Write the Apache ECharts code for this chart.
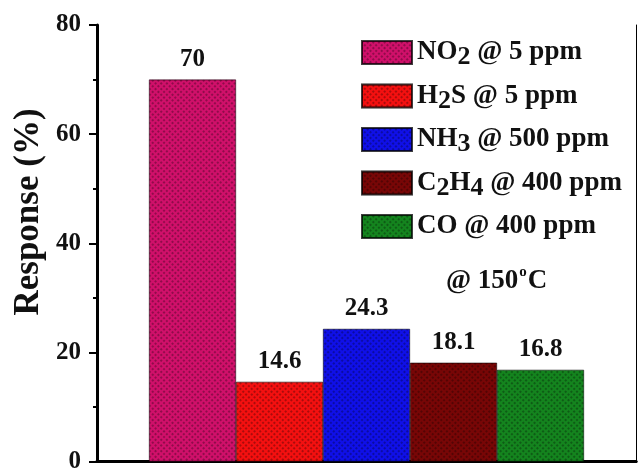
<!DOCTYPE html>
<html><head><meta charset="utf-8">
<script src="https://cdn.jsdelivr.net/npm/echarts@6/dist/echarts.min.js"></script>
<style>html,body{margin:0;padding:0;background:#fff}#c{width:638px;height:474px}</style>
</head><body><div id="c"></div>
<script>
const seriesNames = ['NO2 @ 5 ppm', 'H2S @ 5 ppm', 'NH3 @ 500 ppm', 'C2H4 @ 400 ppm', 'CO @ 400 ppm'];
const legendRich = ['NO{s|2} @ 5 ppm', 'H{s|2}S @ 5 ppm', 'NH{s|3} @ 500 ppm', 'C{s|2}H{s|4} @ 400 ppm', 'CO @ 400 ppm'];
const values = [70, 14.6, 24.3, 18.1, 16.8];
const colors = ['#d0106a', '#f41010', '#1010e8', '#780606', '#14841e'];
const yTicks = [0, 20, 40, 60, 80];
const yTitle = 'Response (%)';
const note = '@ 150{o|o}C';
const F = '"Liberation Serif","Times New Roman",serif';

const chart = echarts.init(document.getElementById('c'));
const decal = {symbol:'rect', symbolSize:1, dashArrayX:[[2,2]], dashArrayY:[2,2], rotation:Math.PI/4, color:'rgba(0,0,0,0.3)'};
const series = seriesNames.map((n, i) => ({
  name: n, type: 'bar', data: [values[i]], barWidth: 87, barGap: '0%',
  itemStyle: {color: colors[i], borderColor: 'rgba(0,0,0,0.5)', borderWidth: 0.6, decal: decal},
  label: {show: true, position: 'top', distance: 8, fontFamily: F, fontWeight: 'bold', fontSize: 25, color: '#111'}
}));
chart.setOption({
  animation: false,
  grid: {left: 97, right: 2, top: 25, bottom: 8, containLabel: false},
  legend: {
    orient: 'vertical', left: 356, top: 34, itemWidth: 50, itemHeight: 23, itemGap: 12,
    icon: 'rect', data: seriesNames,
    formatter: (n) => legendRich[seriesNames.indexOf(n)],
    textStyle: {fontFamily: F, fontWeight: 'bold', fontSize: 27, color: '#111',
      rich: {s: {fontFamily: F, fontWeight: 'bold', fontSize: 26, color: '#111', padding: [10, 0, 0, 0]}}}
  },
  xAxis: [
    {type: 'category', data: [''], position: 'bottom', axisLine: {lineStyle: {color: '#000', width: 3}}, axisTick: {show: false}, axisLabel: {show: false}},
    {type: 'category', data: [''], position: 'top', axisLine: {lineStyle: {color: '#000', width: 3}}, axisTick: {show: false}, axisLabel: {show: false}}
  ],
  yAxis: [
    {type: 'value', min: 0, max: 80, interval: 20, position: 'left',
     axisLine: {show: true, lineStyle: {color: '#000', width: 3}},
     axisTick: {show: true, length: 8, lineStyle: {width: 2, color: '#000'}},
     minorTick: {show: true, splitNumber: 2, length: 4, lineStyle: {width: 2, color: '#000'}},
     axisLabel: {fontFamily: F, fontWeight: 'bold', fontSize: 25, color: '#111', margin: 16,
       formatter: v => yTicks.includes(v) ? String(v) : ''},
     splitLine: {show: false}},
    {type: 'value', min: 0, max: 80, interval: 20, position: 'right',
     axisLine: {show: true, lineStyle: {color: '#000', width: 1}},
     axisTick: {show: false}, axisLabel: {show: false}, splitLine: {show: false}}
  ],
  graphic: [
    {type: 'text', x: 29, y: 212, rotation: Math.PI / 2,
     style: {text: yTitle, fontFamily: F, fontWeight: 'bold', fontSize: 35, fill: '#111', align: 'center', verticalAlign: 'middle'}},
    {type: 'text', left: 446, top: 265,
     style: {text: note, fontFamily: F, fontWeight: 'bold', fontSize: 27, fill: '#111',
      rich: {o: {fontFamily: F, fontWeight: 'bold', fontSize: 15, fill: '#111', padding: [0, 1, 17, 1]}}}}
  ],
  series: series
});
</script></body></html>
